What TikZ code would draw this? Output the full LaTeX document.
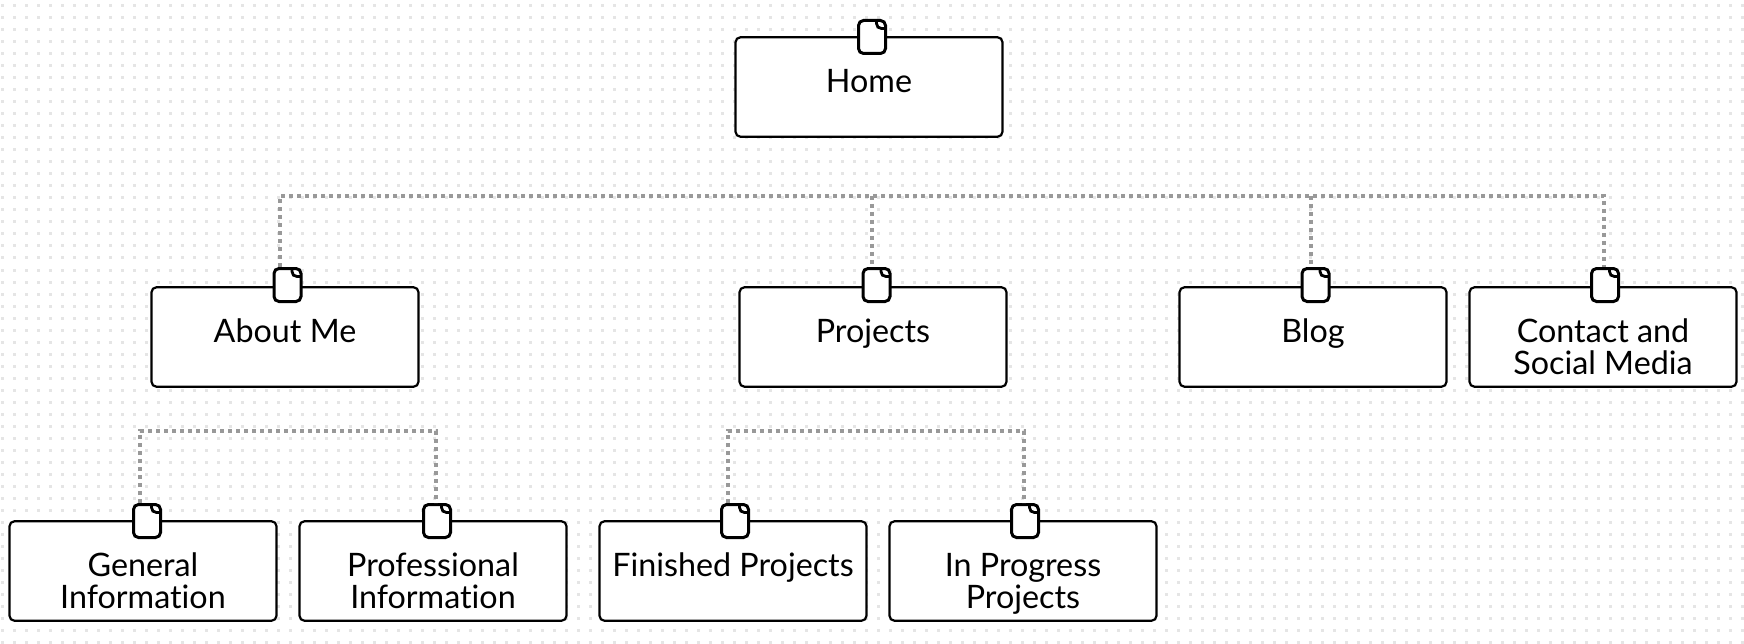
\documentclass[tikz,border=0pt]{standalone}
\usepackage{fontspec}
\usepackage{xcolor}
\setmainfont{Lato}[Ligatures=NoCommon]
\definecolor{griddot}{HTML}{E5E5E5}
\definecolor{linkgray}{HTML}{999999}
\tikzset{
    pagebox/.style={draw=black, fill=white, line width=2.2, rounded corners=5, inner sep=0pt, text width=267, align=flush center, text height=55, text depth=44.5, font=\fontsize{32.3}{32}\selectfont},
    pageicon/.style={draw=black, fill=white, line width=3, rounded corners=5, inner sep=0pt, minimum width=27, minimum height=33, path picture={
        \draw[line width=2.8, sharp corners] (path picture bounding box.north east) ++(-9,-1) -- ++(0,4) .. controls +(0,3) and +(-3,0) .. ++(5,5) -- ++(6,0);
    }},
    sitelink/.style={draw=linkgray, line width=4, dash pattern=on 4 off 4}
}

\begin{document}
\begin{tikzpicture}[x=1pt, y=-1pt]
            \useasboundingbox (0,0) rectangle (1744,644);

            % dotted page grid
            \foreach \col in {0,...,145}
                \foreach \row in {0,...,53}
                    \fill[griddot] (12*\col+0.5, 12*\row+4.5) rectangle +(3,3);

            \node[pagebox] (home) at (869, 87) {Home};
            \node[pagebox] (about) at (285, 337) {About Me};
            \node[pagebox] (projects) at (873, 337) {Projects};
            \node[pagebox] (blog) at (1313, 337) {Blog};
            \node[pagebox] (contact) at (1603, 337) {Contact and\\Social Media};
            \node[pagebox] (general) at (143, 571) {General\\Information};
            \node[pagebox] (professional) at (433, 571) {Professional\\Information};
            \node[pagebox] (finished) at (733, 571) {Finished Projects};
            \node[pagebox] (progress) at (1023, 571) {In Progress\\Projects};

            \node[pageicon] (homeicon) at (872, 37) {};
            \node[pageicon] (abouticon) at (287.5, 285) {};
            \node[pageicon] (projectsicon) at (876.5, 285) {};
            \node[pageicon] (blogicon) at (1315.5, 285) {};
            \node[pageicon] (contacticon) at (1605, 285) {};
            \node[pageicon] (generalicon) at (147, 521) {};
            \node[pageicon] (professionalicon) at (437, 521) {};
            \node[pageicon] (finishedicon) at (735, 521) {};
            \node[pageicon] (progressicon) at (1025, 521) {};

            \coordinate (aboutbus) at (280, 196);
            \coordinate (projectsbus) at (872, 196);
            \coordinate (blogbus) at (1311, 196);
            \coordinate (contactbus) at (1604, 196);
            \coordinate (generalbus) at (140, 431);
            \coordinate (professionalbus) at (436, 431);
            \coordinate (finishedbus) at (727.5, 431);
            \coordinate (progressbus) at (1023.5, 431);

            \draw[sitelink] (aboutbus |- abouticon.north) -- (aboutbus) -- (contactbus) -- (contactbus |- contacticon.north);
            \draw[sitelink] (projectsbus) -- (projectsbus |- projectsicon.north);
            \draw[sitelink] (blogbus) -- (blogbus |- blogicon.north);
            \draw[sitelink] (generalbus |- generalicon.north) -- (generalbus) -- (professionalbus) -- (professionalbus |- professionalicon.north);
            \draw[sitelink] (finishedbus |- finishedicon.north) -- (finishedbus) -- (progressbus) -- (progressbus |- progressicon.north);
        \end{tikzpicture}
\end{document}
